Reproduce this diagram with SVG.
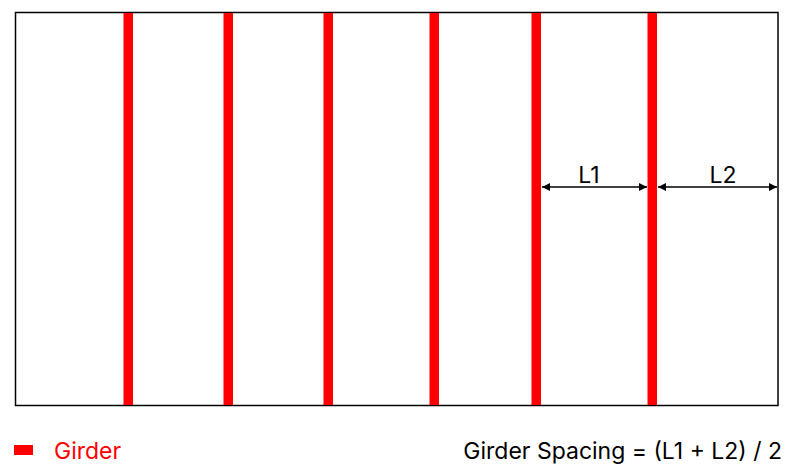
<svg xmlns="http://www.w3.org/2000/svg" width="797" height="471" viewBox="0 0 797 471">
<style>
.g{fill:#ff0000}
.dim{stroke:#000;stroke-width:1.5;fill:none}
.t{font-family:Inter,"Liberation Sans",sans-serif;font-size:23px;fill:#000}
</style>
<defs>
<marker id="a" viewBox="0 0 10 10" refX="10" refY="5" markerWidth="8" markerHeight="8" markerUnits="userSpaceOnUse" orient="auto-start-reverse">
<path d="M0,0L10,5L0,10Z" fill="#000"/>
</marker>
</defs>
<rect width="797" height="471" fill="#fff"/>
<g id="frame"><rect x="15.5" y="12.5" width="762.5" height="393" fill="none" stroke="#000" stroke-width="1.5"/></g>
<g id="girders">
<rect id="g1" class="g" x="123.5" y="13" width="9.5" height="392"/>
<rect id="g2" class="g" x="223.5" y="13" width="9.5" height="392"/>
<rect id="g3" class="g" x="323.5" y="13" width="9.5" height="392"/>
<rect id="g4" class="g" x="429.5" y="13" width="9.5" height="392"/>
<rect id="g5" class="g" x="531.5" y="13" width="9.5" height="392"/>
<rect id="g6" class="g" x="647.5" y="13" width="9.5" height="392"/>
</g>
<g id="connectors">
<line class="dim" x1="542" y1="187" x2="647" y2="187" marker-start="url(#a)" marker-end="url(#a)"/>
<line class="dim" x1="658" y1="187" x2="777" y2="187" marker-start="url(#a)" marker-end="url(#a)"/>
</g>
<g id="labels">
<text class="t" x="589" y="183" text-anchor="middle">L1</text>
<text class="t" x="723" y="183" text-anchor="middle">L2</text>
</g>
<g id="legend">
<rect class="g" x="14" y="445" width="19" height="10"/>
<text class="t" x="54" y="459" style="fill:#ff0000">Girder</text>
<text class="t" x="782" y="459" text-anchor="end">Girder Spacing = (L1 + L2) / 2</text>
</g>
</svg>
